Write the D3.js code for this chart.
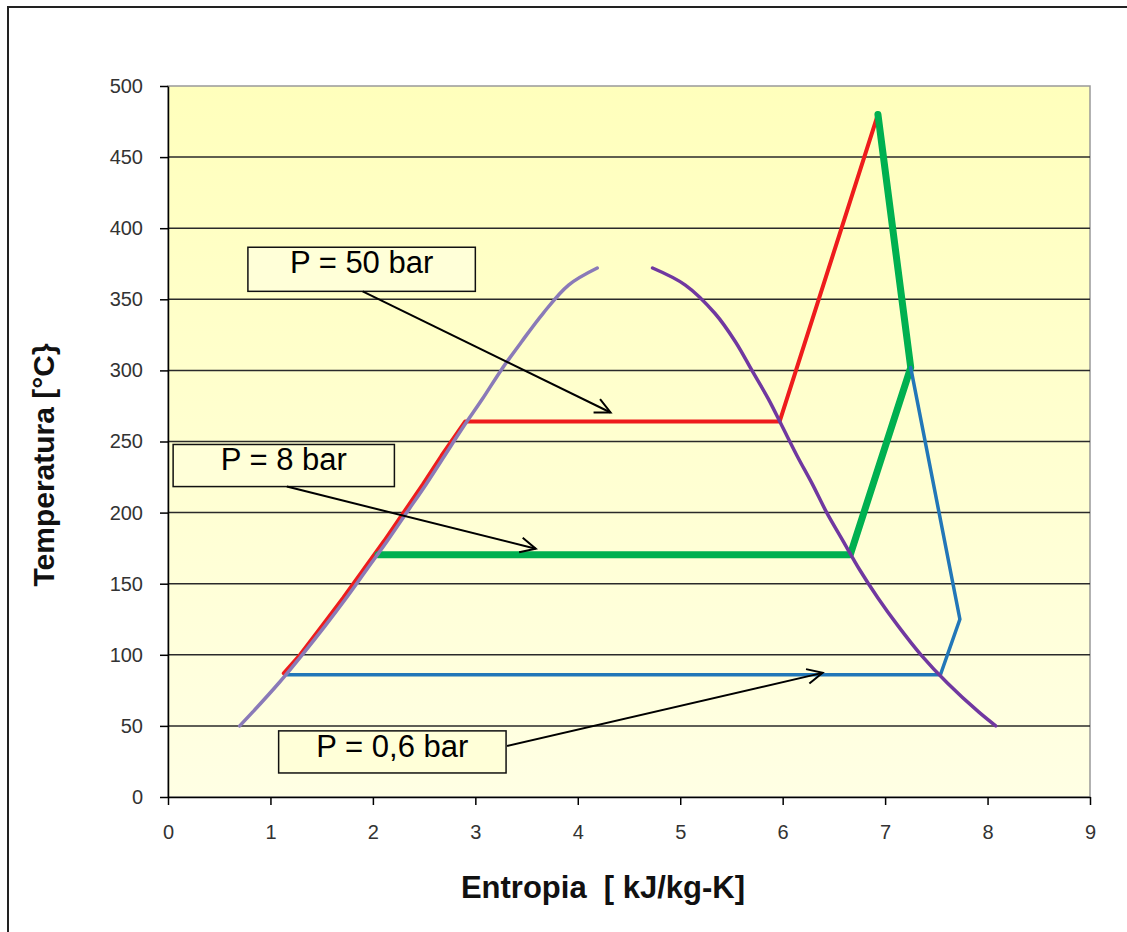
<!DOCTYPE html>
<html>
<head>
<meta charset="utf-8">
<script src="https://cdn.jsdelivr.net/npm/d3@7"></script>
<style>
  body { margin: 0; background: #fff; }
  svg { display: block; font-family: "Liberation Sans", Arial, sans-serif; }
</style>
</head>
<body>
<div id="chart"></div>
<script>
// saturation dome, liquid side (entropy, temperature)
var liquidS = [0.70, 0.83, 1.08, 1.31, 1.53, 1.74, 1.94, 2.14, 2.33, 2.52, 2.70, 2.88, 3.07, 3.25, 3.45, 3.66, 3.91, 4.19];
var liquidT = [50, 60, 80, 100, 120, 140, 160, 180, 200, 220, 240, 260, 280, 300, 320, 340, 360, 372];
// saturation dome, vapour side
var vaporS = [4.73, 5.05, 5.34, 5.54, 5.70, 5.86, 6.00, 6.14, 6.29, 6.43, 6.59, 6.75, 6.93, 7.13, 7.35, 7.61, 7.91, 8.08];
var vaporT = [372, 360, 340, 320, 300, 280, 260, 240, 220, 200, 180, 160, 140, 120, 100, 80, 60, 50];

// cycle at 50 bar (red)
var p50S = [1.13, 1.29, 1.50, 1.71, 1.91, 2.11, 2.30, 2.49, 2.67, 2.90, 5.97, 6.93];
var p50T = [87, 100, 120, 140, 160, 180, 200, 220, 240, 264, 264, 480];
// cycle at 8 bar (green)
var p8S = [2.05, 6.66, 7.25, 6.93];
var p8T = [170.4, 170.4, 302, 480];
// cycle at 0,6 bar (blue)
var p06S = [1.16, 7.54, 7.73, 7.25];
var p06T = [86, 86, 125, 302];

var xTicks = [0, 1, 2, 3, 4, 5, 6, 7, 8, 9];
var yTicks = [0, 50, 100, 150, 200, 250, 300, 350, 400, 450, 500];

var labels = ['P = 50 bar', 'P = 8 bar', 'P = 0,6 bar'];

var W = 1127, H = 932;
var margin = {top: 86, right: 37, bottom: 135, left: 168},
    width = W - margin.left - margin.right,
    height = H - margin.top - margin.bottom;

function zip(xs, ys) { return xs.map(function(x, i) { return {x: x, y: ys[i]}; }); }

var svg = d3.select('#chart').append('svg')
    .attr('width', W)
    .attr('height', H);

// outer frame (top and left edges visible)
svg.append('path')
    .attr('d', 'M8,' + H + 'V7H' + W)
    .attr('fill', 'none')
    .attr('stroke', '#222')
    .attr('stroke-width', 2);

var defs = svg.append('defs');
var grad = defs.append('linearGradient')
    .attr('id', 'bg').attr('x1', 0).attr('y1', 0).attr('x2', 0).attr('y2', 1);
grad.append('stop').attr('offset', '0%').attr('stop-color', '#FFFFBC');
grad.append('stop').attr('offset', '100%').attr('stop-color', '#FFFFE4');

var xScale = d3.scaleLinear().domain([0, 9]).range([0, width]);
var yScale = d3.scaleLinear().domain([0, 500]).range([height, 0]);

var g = svg.append('g')
    .attr('transform', 'translate(' + margin.left + ',' + margin.top + ')');

g.append('rect')
    .attr('width', width)
    .attr('height', height)
    .attr('fill', 'url(#bg)')
    .attr('stroke', '#999')
    .attr('stroke-width', 1.5);

// gridlines
g.selectAll('.grid')
    .data(yTicks.filter(function(d) { return d > 0 && d < 500; }))
    .enter().append('line')
    .attr('x1', 0).attr('x2', width)
    .attr('y1', function(d) { return yScale(d); })
    .attr('y2', function(d) { return yScale(d); })
    .attr('stroke', '#2a2a2a')
    .attr('stroke-width', 1.5);

var xAxis = d3.axisBottom(xScale).tickValues(xTicks).tickSize(8).tickSizeOuter(0).tickPadding(20);
var yAxis = d3.axisLeft(yScale).tickValues(yTicks).tickSize(8).tickSizeOuter(0).tickPadding(17);

var gx = g.append('g').attr('transform', 'translate(0,' + height + ')').call(xAxis);
var gy = g.append('g').call(yAxis);
[gx, gy].forEach(function(a) {
  a.select('.domain').attr('stroke', '#000').attr('stroke-width', 1.5);
  a.selectAll('.tick line').attr('stroke', '#000').attr('stroke-width', 1.5);
  a.selectAll('.tick text')
    .attr('fill', '#333')
    .style('font-size', '20px')
    .style('font-family', '"Liberation Sans", Arial, sans-serif');
});

var line = d3.line()
    .x(function(d) { return xScale(d.x); })
    .y(function(d) { return yScale(d.y); });

var smooth = d3.line()
    .curve(d3.curveCatmullRom)
    .x(function(d) { return xScale(d.x); })
    .y(function(d) { return yScale(d.y); });

function drawPath(gen, pts, color, w) {
  g.append('path')
    .attr('d', gen(pts))
    .attr('fill', 'none')
    .attr('stroke', color)
    .attr('stroke-width', w)
    .attr('stroke-linejoin', 'round')
    .attr('stroke-linecap', 'round');
}

drawPath(line, zip(p50S, p50T), '#EE1C1C', 4);
drawPath(line, zip(p8S, p8T), '#00B050', 7);
drawPath(line, zip(p06S, p06T), '#2277B8', 3.5);
drawPath(smooth, zip(liquidS, liquidT), '#8A7AB8', 3.5);
drawPath(smooth, zip(vaporS, vaporT), '#7038A0', 3.5);

// annotation boxes and arrows (data coordinates)
var notes = [
  {box: [0.78, 386.6, 3.0, 355.6], from: [1.90, 355.6], to: [4.32, 270.4]},
  {box: [0.05, 247.9, 2.21, 218.3], from: [1.16, 218.3], to: [3.59, 174.6]},
  {box: [1.08, 46.5, 3.30, 16.9], from: [3.31, 35.9], to: [6.39, 87.3]}
];

notes.forEach(function(n, i) {
  var x0 = xScale(n.box[0]), y0 = yScale(n.box[1]),
      x1 = xScale(n.box[2]), y1 = yScale(n.box[3]);
  g.append('rect')
    .attr('x', x0).attr('y', y0)
    .attr('width', x1 - x0).attr('height', y1 - y0)
    .attr('fill', '#FFFFD8')
    .attr('stroke', '#111')
    .attr('stroke-width', 1.5);
  g.append('text')
    .attr('x', (x0 + x1) / 2)
    .attr('y', y0 + 26)
    .attr('text-anchor', 'middle')
    .style('font-size', '31px')
    .attr('fill', '#000')
    .text(labels[i]);

  var ax = xScale(n.from[0]), ay = yScale(n.from[1]),
      bx = xScale(n.to[0]), by = yScale(n.to[1]);
  g.append('line')
    .attr('x1', ax).attr('y1', ay).attr('x2', bx).attr('y2', by)
    .attr('stroke', '#000').attr('stroke-width', 2);
  var ang = Math.atan2(by - ay, bx - ax), L = 17, spread = 0.45;
  var head = [
    [bx - L * Math.cos(ang - spread), by - L * Math.sin(ang - spread)],
    [bx, by],
    [bx - L * Math.cos(ang + spread), by - L * Math.sin(ang + spread)]
  ];
  g.append('path')
    .attr('d', d3.line()(head))
    .attr('fill', 'none')
    .attr('stroke', '#000')
    .attr('stroke-width', 2);
});

// axis titles
svg.append('text')
    .attr('x', 603)
    .attr('y', 898)
    .attr('text-anchor', 'middle')
    .style('font-size', '31px')
    .style('font-weight', 'bold')
    .attr('fill', '#111')
    .attr('xml:space', 'preserve')
    .text('Entropia  [ kJ/kg-K]');

svg.append('text')
    .attr('transform', 'translate(54,' + 465 + ') rotate(-90)')
    .attr('text-anchor', 'middle')
    .style('font-size', '30px')
    .style('font-weight', 'bold')
    .attr('fill', '#111')
    .text('Temperatura [°C}');
</script>
</body>
</html>
